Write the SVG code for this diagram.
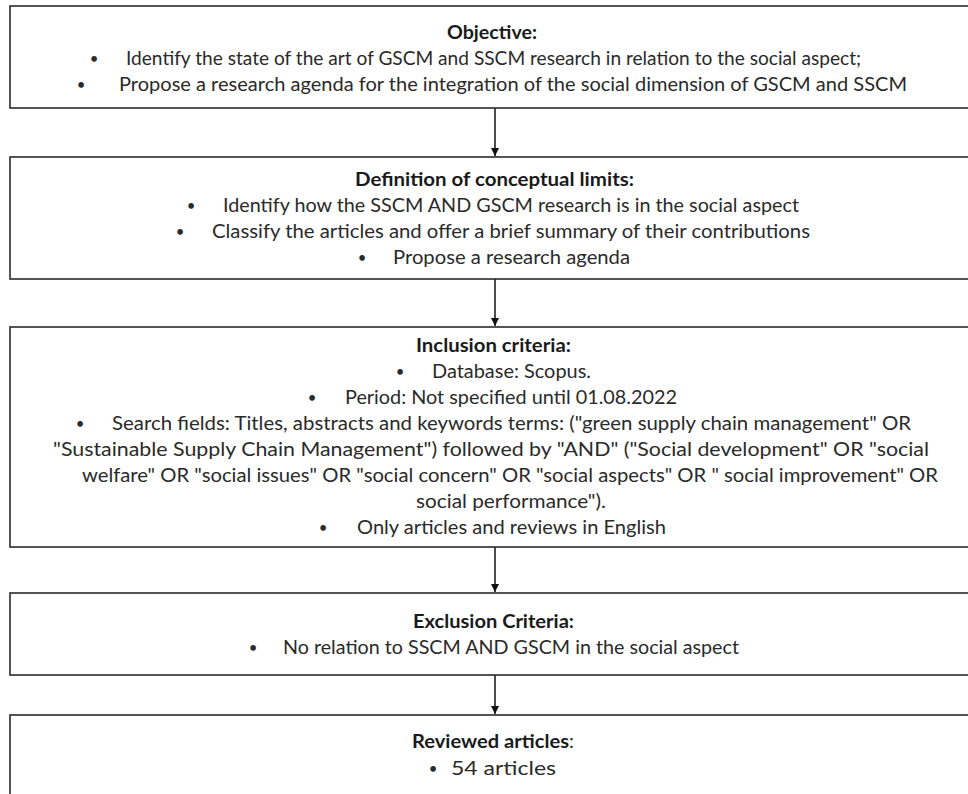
<svg xmlns="http://www.w3.org/2000/svg" width="968" height="794" viewBox="0 0 968 794">
<defs>
<marker id="arr" markerUnits="userSpaceOnUse" markerWidth="9" markerHeight="9" refX="8" refY="4" orient="auto">
<path d="M0,0 L8,4 L0,8 z" fill="#111"/>
</marker>
<style>
.box{fill:#fff;stroke:#2a2a2a;stroke-width:1.6}
text{font-family:Lato,"Open Sans","Liberation Sans",sans-serif;font-size:19.5px;fill:#2a2a2a}
.t{font-weight:bold;fill:#1a1a1a}
.b{text-anchor:middle;font-size:15px}
.c{stroke:#111;stroke-width:1.5;fill:none}
</style>
</defs>
<rect width="968" height="794" fill="#fff"/>
<g id="connectors">
<line class="c" x1="495" y1="108" x2="495" y2="156" marker-end="url(#arr)"/>
<line class="c" x1="495" y1="279" x2="495" y2="326" marker-end="url(#arr)"/>
<line class="c" x1="495" y1="547" x2="495" y2="592" marker-end="url(#arr)"/>
<line class="c" x1="495" y1="675" x2="495" y2="714" marker-end="url(#arr)"/>
</g>
<g id="objective">
<rect class="box" x="10" y="6" width="1000" height="102"/>
<text class="t" x="447" y="39" textLength="90" lengthAdjust="spacingAndGlyphs">Objective:</text>
<text class="b" x="94" y="64">•</text>
<text x="126" y="65" textLength="735" lengthAdjust="spacingAndGlyphs">Identify the state of the art of GSCM and SSCM research in relation to the social aspect;</text>
<text class="b" x="81" y="90">•</text>
<text x="119" y="91" textLength="788" lengthAdjust="spacingAndGlyphs">Propose a research agenda for the integration of the social dimension of GSCM and SSCM</text>
</g>
<g id="definition">
<rect class="box" x="10" y="157" width="1000" height="122"/>
<text class="t" x="355" y="186" textLength="279" lengthAdjust="spacingAndGlyphs">Definition of conceptual limits:</text>
<text class="b" x="191" y="211">•</text>
<text x="223" y="212" textLength="576" lengthAdjust="spacingAndGlyphs">Identify how the SSCM AND GSCM research is in the social aspect</text>
<text class="b" x="180" y="237">•</text>
<text x="212" y="238" textLength="598" lengthAdjust="spacingAndGlyphs">Classify the articles and offer a brief summary of their contributions</text>
<text class="b" x="362" y="263">•</text>
<text x="393" y="264" textLength="237" lengthAdjust="spacingAndGlyphs">Propose a research agenda</text>
</g>
<g id="inclusion">
<rect class="box" x="10" y="327" width="1000" height="220"/>
<text class="t" x="416" y="352" textLength="155" lengthAdjust="spacingAndGlyphs">Inclusion criteria:</text>
<text class="b" x="400" y="377">•</text>
<text x="432" y="378" textLength="159" lengthAdjust="spacingAndGlyphs">Database: Scopus.</text>
<text class="b" x="312" y="403">•</text>
<text x="345" y="404" textLength="332" lengthAdjust="spacingAndGlyphs">Period: Not specified until 01.08.2022</text>
<text class="b" x="80" y="429">•</text>
<text x="112" y="430" textLength="799" lengthAdjust="spacingAndGlyphs">Search fields: Titles, abstracts and keywords terms: ("green supply chain management" OR</text>
<text x="53" y="456" textLength="876" lengthAdjust="spacingAndGlyphs">"Sustainable Supply Chain Management") followed by "AND" ("Social development" OR "social</text>
<text x="82" y="482" textLength="856" lengthAdjust="spacingAndGlyphs">welfare" OR "social issues" OR "social concern" OR "social aspects" OR " social improvement" OR</text>
<text x="416" y="508" textLength="190" lengthAdjust="spacingAndGlyphs">social performance").</text>
<text class="b" x="323" y="533">•</text>
<text x="357" y="534" textLength="309" lengthAdjust="spacingAndGlyphs">Only articles and reviews in English</text>
</g>
<g id="exclusion">
<rect class="box" x="10" y="593" width="1000" height="82"/>
<text class="t" x="413" y="628" textLength="161" lengthAdjust="spacingAndGlyphs">Exclusion Criteria:</text>
<text class="b" x="253" y="653">•</text>
<text x="283" y="654" textLength="456" lengthAdjust="spacingAndGlyphs">No relation to SSCM AND GSCM in the social aspect</text>
</g>
<g id="reviewed">
<rect class="box" x="10" y="715" width="1000" height="100"/>
<text class="t" x="412" y="748" textLength="157" lengthAdjust="spacingAndGlyphs">Reviewed articles</text>
<text x="569" y="748">:</text>
<text class="b" x="433" y="774">•</text>
<text x="451" y="775" textLength="105" lengthAdjust="spacingAndGlyphs">54 articles</text>
</g>
</svg>
